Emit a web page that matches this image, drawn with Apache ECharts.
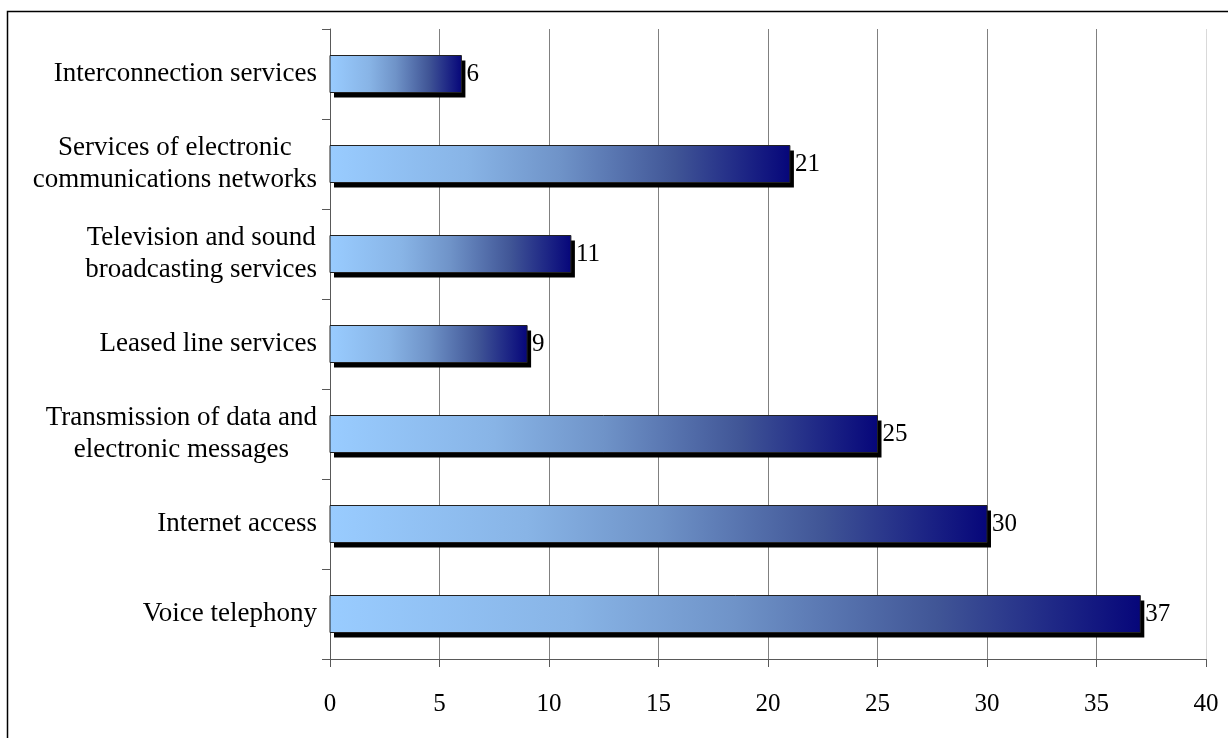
<!DOCTYPE html>
<html>
<head>
<meta charset="utf-8">
<script src="https://cdn.jsdelivr.net/npm/echarts@6/dist/echarts.min.js"></script>
<style>
html,body{margin:0;padding:0;background:#fff;}
#chart{width:1228px;height:738px;}
</style>
</head>
<body>
<div id="chart"></div>
<script>
// Data (bottom to top)
const categories = [
  'Voice telephony',
  'Internet access',
  'Transmission of data and\nelectronic messages',
  'Leased line services',
  'Television and sound\nbroadcasting services',
  'Services of electronic\ncommunications networks',
  'Interconnection services'
];
const values = [37, 30, 25, 9, 11, 21, 6];
const xTicks = [0, 5, 10, 15, 20, 25, 30, 35, 40];

const FONT = '"Liberation Serif", "Times New Roman", serif';
const chart = echarts.init(document.getElementById('chart'));

const splitColors = xTicks.map((t, i) => i === xTicks.length - 1 ? '#d9d9d9' : '#808080');
const BAR_H = 37;

function renderItem(params, api) {
  const v = api.value(0);
  const c = api.value(1);
  const p0 = api.coord([0, c]);
  const p1 = api.coord([v, c]);
  const x0 = p0[0], x1 = p1[0], yc = p0[1];
  const y0 = yc - BAR_H / 2;
  const w = x1 - x0;
  return {
    type: 'group',
    children: [
      {
        type: 'rect',
        shape: { x: x0 + 4, y: y0 + 5, width: w, height: BAR_H },
        style: { fill: '#000' }
      },
      {
        type: 'rect',
        shape: { x: x0, y: y0, width: w, height: BAR_H },
        style: {
          fill: new echarts.graphic.LinearGradient(0, 0, 1, 0, [
            { offset: 0, color: '#99ccff' },
            { offset: 0.3, color: '#88b4e6' },
            { offset: 0.5, color: '#6f93c8' },
            { offset: 0.75, color: '#405596' },
            { offset: 1, color: '#06067a' }
          ]),
          stroke: '#222',
          lineWidth: 1
        }
      },
      {
        type: 'text',
        style: {
          x: x1 + 5,
          y: yc,
          text: String(v),
          font: '25px ' + FONT,
          fill: '#000',
          textAlign: 'left',
          textVerticalAlign: 'middle'
        }
      }
    ]
  };
}

chart.setOption({
  animation: false,
  backgroundColor: '#fff',
  graphic: [{
    type: 'rect',
    shape: { x: 7.5, y: 11.5, width: 1260, height: 780 },
    style: { fill: 'none', stroke: '#000', lineWidth: 1.5 },
    silent: true,
    z: 100
  }],
  grid: { left: 330, right: 22, top: 29, bottom: 79, containLabel: false },
  xAxis: {
    type: 'value',
    min: xTicks[0],
    max: xTicks[xTicks.length - 1],
    interval: 5,
    axisLine: { show: true, lineStyle: { color: '#595959', width: 1 } },
    axisTick: { show: true, inside: false, length: 8, lineStyle: { color: '#595959' } },
    splitLine: { show: true, lineStyle: { color: splitColors, width: 1 } },
    axisLabel: { fontFamily: FONT, fontSize: 25, color: '#000', margin: 33 }
  },
  yAxis: {
    type: 'category',
    data: categories,
    axisLine: { show: true, lineStyle: { color: '#595959', width: 1 } },
    axisTick: { show: true, inside: false, length: 8, lineStyle: { color: '#595959' } },
    axisLabel: {
      margin: 13,
      formatter: v => v.split('\n').map(l => '{c|' + l + '}').join('\n'),
      rich: {
        c: { fontFamily: FONT, fontSize: 27, color: '#000', align: 'center', lineHeight: 32 }
      }
    }
  },
  series: [{
    type: 'custom',
    renderItem: renderItem,
    encode: { x: 0, y: 1 },
    data: values.map((v, i) => [v, i]),
    z: 3
  }]
});
</script>
</body>
</html>
